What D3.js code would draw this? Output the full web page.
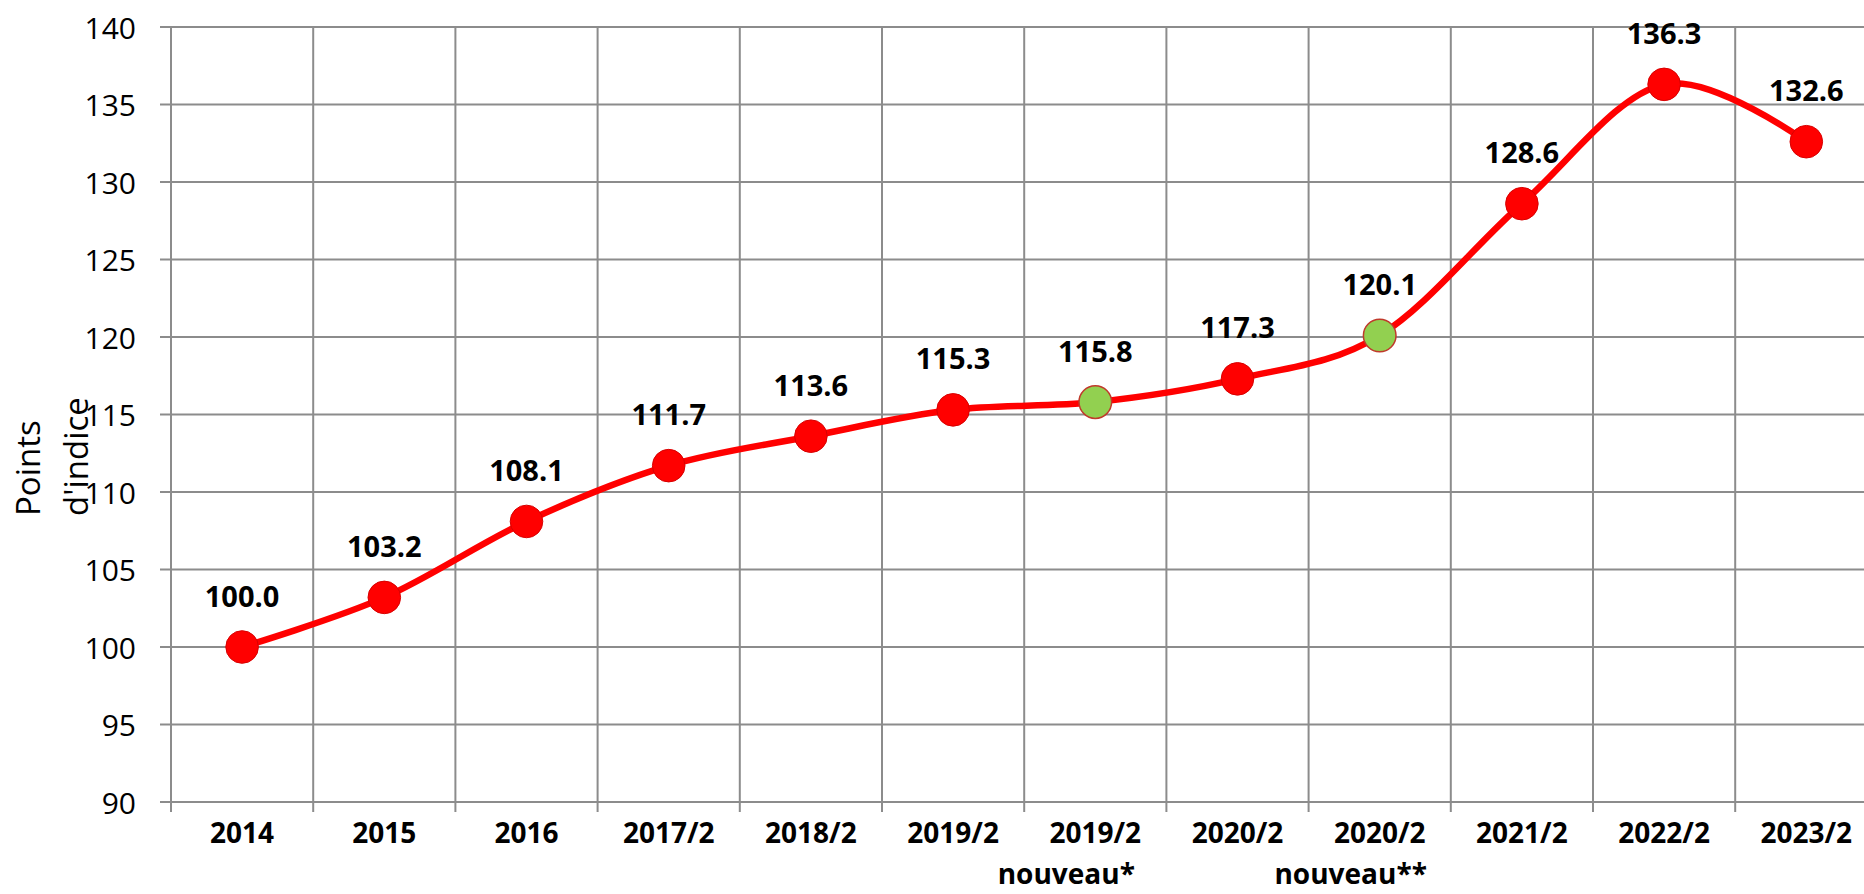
<!DOCTYPE html>
<html>
<head>
<meta charset="utf-8">
<script src="https://cdn.jsdelivr.net/npm/d3@7"></script>
<style>
  html, body { margin: 0; padding: 0; background: #fff; }
  svg { display: block; }
</style>
</head>
<body>
<svg id="chart" width="1864" height="894"></svg>
<script>
// ---- data ----
const categories = ["2014", "2015", "2016", "2017/2", "2018/2", "2019/2", "2019/2\nnouveau*", "2020/2", "2020/2\nnouveau**", "2021/2", "2022/2", "2023/2"];
const values = [100.0, 103.2, 108.1, 111.7, 113.6, 115.3, 115.8, 117.3, 120.1, 128.6, 136.3, 132.6];
const isNewBase = [false, false, false, false, false, false, true, false, true, false, false, false];
const yTicks = [90, 95, 100, 105, 110, 115, 120, 125, 130, 135, 140];
const yTitle = ["Points", "d'indice"];

(function () {
// ---- layout ----
const svg = d3.select("#chart");
const W = 1864, H = 894;
const mLeft = 171, mTop = 27, mBottom = 802;
const step = 142.2;
const mRight = mLeft + step * categories.length;

const x = d3.scaleBand().domain(d3.range(categories.length)).range([mLeft, mRight]).padding(0);
const y = d3.scaleLinear().domain([90, 140]).range([mBottom, mTop]);

const grid = "#8c8c8c";

svg.append("rect").attr("width", W).attr("height", H).attr("fill", "#fff");

// horizontal gridlines (with left tick stubs)
svg.append("g").selectAll("line").data(yTicks).join("line")
  .attr("x1", mLeft - 11).attr("x2", mRight)
  .attr("y1", d => y(d)).attr("y2", d => y(d))
  .attr("stroke", grid).attr("stroke-width", 2);

// vertical gridlines at category boundaries
const bounds = d3.range(categories.length + 1).map(i => mLeft + i * x.step());
svg.append("g").selectAll("line").data(bounds).join("line")
  .attr("x1", d => d).attr("x2", d => d)
  .attr("y1", mTop).attr("y2", mBottom + 10)
  .attr("stroke", grid).attr("stroke-width", 2);

// y tick labels
svg.append("g").selectAll("text").data(yTicks).join("text")
  .attr("x", 136).attr("y", d => y(d))
  .attr("text-anchor", "end").attr("dominant-baseline", "central")
  .attr("font-family", "'Open Sans', sans-serif").attr("font-size", 30)
  .attr("fill", "#000")
  .text(d => d);

// y axis title (two lines, rotated)
const titleG = svg.append("g");
yTitle.forEach((t, i) => {
  titleG.append("text")
    .attr("transform", `translate(${40 + i * 48},516) rotate(-90)`)
    .attr("text-anchor", "start")
    .attr("font-family", "'Open Sans', sans-serif").attr("font-size", 33)
    .attr("fill", "#000")
    .text(t);
});

// x labels
const xl = svg.append("g");
categories.forEach((c, i) => {
  const lines = c.split("\n");
  const cx = x(i) + x.bandwidth() / 2;
  lines.forEach((ln, j) => {
    xl.append("text")
      .attr("x", cx + (j > 0 ? -29 : 0))
      .attr("y", 843 + j * 41)
      .attr("text-anchor", "middle")
      .attr("font-family", "'Open Sans', sans-serif").attr("font-weight", "bold").attr("font-size", 28)
      .attr("fill", "#000")
      .text(ln);
  });
});

// smoothed line
const line = d3.line()
  .x((d, i) => x(i) + x.bandwidth() / 2)
  .y(d => y(d))
  .curve(d3.curveCatmullRom.alpha(0));

svg.append("path").datum(values)
  .attr("d", line)
  .attr("fill", "none")
  .attr("stroke", "#ff0000")
  .attr("stroke-width", 6.5)
  .attr("stroke-linejoin", "round");

// markers
svg.append("g").selectAll("circle").data(values).join("circle")
  .attr("cx", (d, i) => x(i) + x.bandwidth() / 2)
  .attr("cy", d => y(d))
  .attr("r", 16.3)
  .attr("fill", (d, i) => isNewBase[i] ? "#92d050" : "#ff0000")
  .attr("stroke", (d, i) => isNewBase[i] ? "#c0392b" : "#d80000")
  .attr("stroke-width", (d, i) => isNewBase[i] ? 1.5 : 1);

// data labels
svg.append("g").selectAll("text").data(values).join("text")
  .attr("x", (d, i) => x(i) + x.bandwidth() / 2)
  .attr("y", d => y(d) - 52)
  .attr("text-anchor", "middle").attr("dominant-baseline", "central")
  .attr("font-family", "'Open Sans', sans-serif").attr("font-weight", "bold").attr("font-size", 29)
  .attr("fill", "#000")
  .text(d => d.toFixed(1));
})();
</script>
</body>
</html>
